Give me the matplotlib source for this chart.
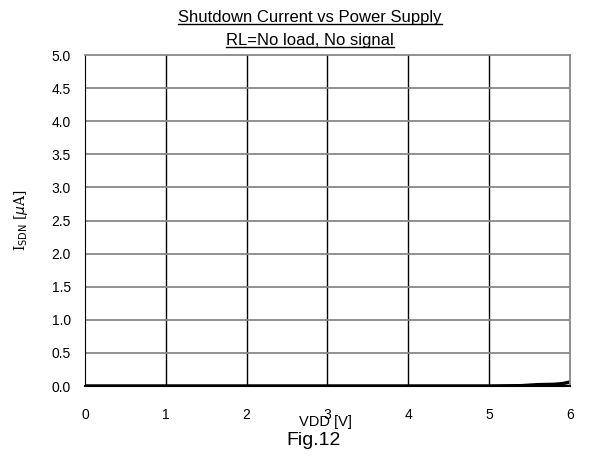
import numpy as np
import matplotlib.pyplot as plt
from matplotlib.lines import Line2D

plt.rcParams['font.family'] = ['Liberation Sans', 'DejaVu Sans']

# Shutdown current vs supply voltage
vdd = [0.0, 1.0, 2.0, 3.0, 4.0, 5.0, 5.4, 5.6, 5.8, 5.9, 6.0]
isdn = [0.0, 0.0, 0.0, 0.0, 0.0, 0.0, 0.005, 0.02, 0.025, 0.035, 0.06]

x_ticks = [0, 1, 2, 3, 4, 5, 6]
y_ticks = [0.0, 0.5, 1.0, 1.5, 2.0, 2.5, 3.0, 3.5, 4.0, 4.5, 5.0]

fig = plt.figure(figsize=(5.98, 4.67), dpi=100)
ax = fig.add_axes([0.1421, 0.1734, 0.8111, 0.7088])

ax.plot(vdd, isdn, color='black', linewidth=2.5, solid_capstyle='butt')

ax.set_xlim(0, 6)
ax.set_ylim(0, 5)
ax.set_xticks(x_ticks)
ax.set_yticks(y_ticks)
ax.set_xticklabels([str(t) for t in x_ticks], fontsize=10)
ax.set_yticklabels([f'{t:.1f}' for t in y_ticks], fontsize=10)
ax.tick_params(axis='both', length=0)
ax.tick_params(axis='x', pad=16)
ax.tick_params(axis='y', pad=10)

# vertical grid black, horizontal grid gray
for t in x_ticks[1:-1]:
    ax.axvline(t, color='black', linewidth=1.0, zorder=1)
for t in y_ticks[1:-1]:
    ax.axhline(t, color='#888888', linewidth=1.3, zorder=1)

ax.spines['left'].set_color('black')
ax.spines['bottom'].set_color('black')
ax.spines['bottom'].set_linewidth(1.5)
ax.spines['top'].set_color('#888888')
ax.spines['right'].set_color('#888888')
ax.spines['top'].set_linewidth(1.3)
ax.spines['right'].set_linewidth(1.3)

fig.text(0.545, 0.097, 'VDD [V]', ha='center', va='center', fontsize=10.5)
fig.text(0.035, 0.5 * (0.1734 + 0.8822), r'I$_{\mathrm{SDN}}$ [$\mu$A]',
         ha='center', va='center', rotation=90, fontsize=10, family='DejaVu Serif')
fig.text(0.525, 0.057, 'Fig.12', ha='center', va='center', fontsize=14)

t1 = fig.text(0.518, 0.962, 'Shutdown Current vs Power Supply', ha='center', va='center', fontsize=12)
t2 = fig.text(0.518, 0.914, 'RL=No load, No signal', ha='center', va='center', fontsize=12)

# underline the title lines
fig.canvas.draw()
renderer = fig.canvas.get_renderer()
inv = fig.transFigure.inverted()
for t in (t1, t2):
    bb = t.get_window_extent(renderer)
    (x0, y0), (x1, y1) = inv.transform([(bb.x0, bb.y0), (bb.x1, bb.y1)])
    fig.add_artist(Line2D([x0, x1], [y0 + 0.002, y0 + 0.002], color='black',
                          linewidth=1.0, transform=fig.transFigure))

fig.savefig('out.png', dpi=100)
